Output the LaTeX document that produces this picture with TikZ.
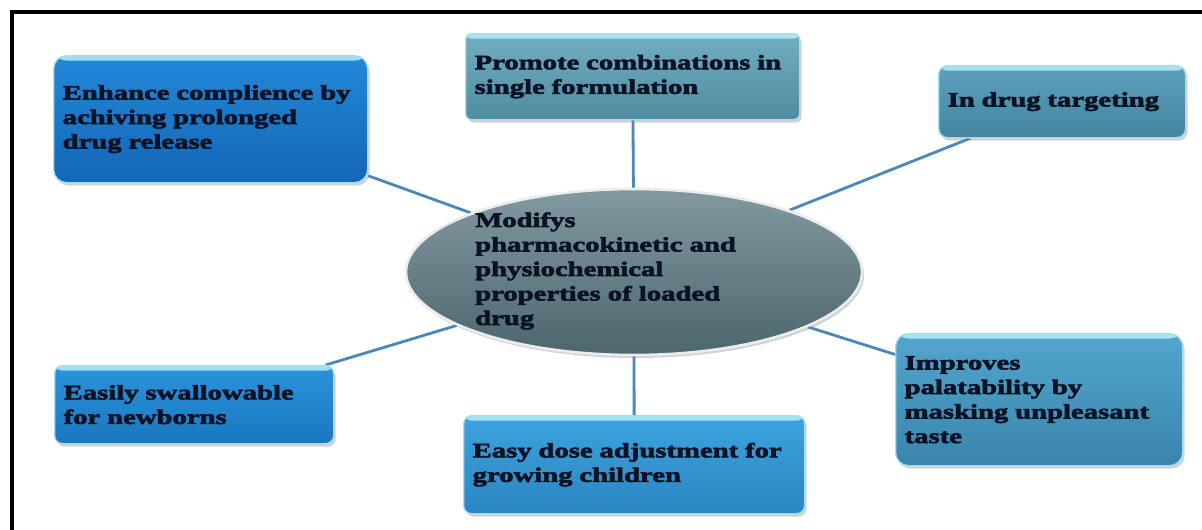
\documentclass[tikz,border=0pt]{standalone}
\usepackage{fontspec}
\newfontfamily\boxfont{Liberation Serif}[FakeStretch=1.4, BoldFeatures={FakeBold=3}]
\usetikzlibrary{shapes.geometric,shadows,backgrounds}

\definecolor{ink}{HTML}{0A1224}
\definecolor{linkblue}{HTML}{4A88BC}
\definecolor{rim}{HTML}{A4DDEC}
\definecolor{gloss}{HTML}{B6EEF8}
\definecolor{hubtop}{HTML}{8399A0}
\definecolor{hubbot}{HTML}{4C666E}
\definecolor{enhtop}{HTML}{2388D8}
\definecolor{enhbot}{HTML}{1466B6}
\definecolor{promtop}{HTML}{72AEC2}
\definecolor{prombot}{HTML}{4E8CA0}
\definecolor{targtop}{HTML}{5CA1BE}
\definecolor{targbot}{HTML}{45849F}
\definecolor{imprtop}{HTML}{52A6CE}
\definecolor{imprbot}{HTML}{3A84AC}
\definecolor{swaltop}{HTML}{2A94DB}
\definecolor{swalbot}{HTML}{1B77BF}
\definecolor{dosetop}{HTML}{3DA3DE}
\definecolor{dosebot}{HTML}{2A86C2}

\tikzset{
  card/.style={rectangle, rounded corners=13pt, draw=rim, line width=1.3pt,
    anchor=north west, inner xsep=9pt, inner ysep=4pt, align=left,
    font=\boxfont\bfseries\fontsize{20.5}{24.5}\selectfont, text=ink,
    path picture={\fill[gloss, opacity=0.85]
      (path picture bounding box.north west) rectangle
      ([yshift=-5pt]path picture bounding box.north east);},
    drop shadow={opacity=0.35, shadow xshift=2pt, shadow yshift=-3pt}},
  link/.style={draw=linkblue, line width=2.8pt},
  hubshape/.style={ellipse, draw=white!85!gray, line width=2.6pt,
    top color=hubtop, bottom color=hubbot, minimum width=456pt, minimum height=166pt,
    drop shadow={opacity=0.35, shadow xshift=2pt, shadow yshift=-3pt}},
}

\begin{document}
\begin{tikzpicture}[x=1pt,y=-1pt]
  \useasboundingbox (0,0) rectangle (1202,530);

  % central ellipse
  \node[hubshape] (hub) at (634,272) {};
  \node[anchor=west, inner sep=0pt, align=left, text=ink,
        font=\boxfont\bfseries\fontsize{20.5}{24.5}\selectfont] (hubtext) at (475,271)
    {Modifys\\pharmacokinetic and\\physiochemical\\properties of loaded\\drug};

  % surrounding cards
  \node[card, top color=enhtop, bottom color=enhbot,
        minimum width=314pt, minimum height=127pt, text width=296pt] (enh) at (53,55)
    {Enhance complience by\\achiving prolonged\\drug release};
  \node[card, top color=promtop, bottom color=prombot, rounded corners=6pt,
        minimum width=332pt, minimum height=86pt, text width=316pt] (prom) at (465,33)
    {Promote combinations in\\single formulation};
  \node[card, top color=targtop, bottom color=targbot, rounded corners=9pt,
        minimum width=245pt, minimum height=72pt, text width=229pt] (targ) at (938,65)
    {In drug targeting};
  \node[card, top color=imprtop, bottom color=imprbot,
        minimum width=285pt, minimum height=132pt, text width=269pt] (impr) at (895,333)
    {Improves\\palatability by\\masking unpleasant\\taste};
  \node[card, top color=swaltop, bottom color=swalbot, rounded corners=8pt,
        minimum width=277pt, minimum height=78pt, text width=261pt] (swal) at (54,365)
    {Easily swallowable\\for newborns};
  \node[card, top color=dosetop, bottom color=dosebot, rounded corners=8pt,
        minimum width=339pt, minimum height=98pt, text width=323pt] (dose) at (463,415)
    {Easy dose adjustment for\\growing children};

  \begin{scope}[on background layer]
    % white page with the outer frame (top and left rules)
    \fill[white] (0,0) rectangle (1202,530);
    \draw[line width=4pt, black] (10,12) -- (1202,12);
    \draw[line width=4pt, black] (12,10) -- (12,530);
    % spokes from the centre to each card
    \draw[link] (hub) -- (enh);
    \draw[link] (hub.center) -- (prom.center);
    \draw[link] (hub) -- (targ);
    \draw[link] (hub) -- (impr);
    \draw[link] (hub) -- (swal);
    \draw[link] (hub.center) -- (dose.center);
  \end{scope}
\end{tikzpicture}
\end{document}
